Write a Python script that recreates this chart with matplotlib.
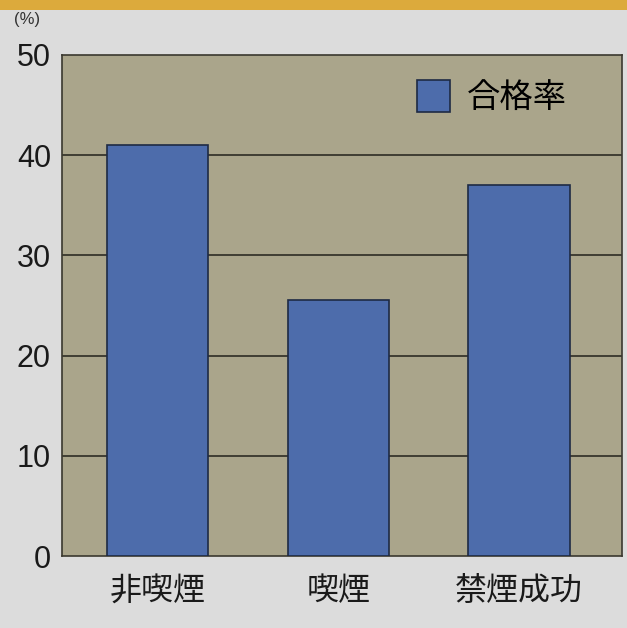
import matplotlib
matplotlib.use("Agg")
import matplotlib.pyplot as plt
from matplotlib.patches import Rectangle

plt.rcParams['font.family'] = ['Liberation Sans', 'Noto Sans CJK JP', 'DejaVu Sans']

# pass rate by smoking status (%)
categories = ['非喫煙', '喫煙', '禁煙成功']
pass_rate = [41, 25.5, 37]
series_name = '合格率'
y_ticks = [0, 10, 20, 30, 40, 50]

W, H = 627, 628
fig = plt.figure(figsize=(W / 100, H / 100), dpi=100)
fig.patch.set_facecolor('#dcdcdc')

# orange strip across the top edge
fig.patches.append(Rectangle((0, 1 - 10 / H), 1, 10 / H, transform=fig.transFigure,
                             facecolor='#dcaa3c', edgecolor='none', zorder=0))

left, right, top, bottom = 62, 622, 55, 556
ax = fig.add_axes([left / W, 1 - bottom / H, (right - left) / W, (bottom - top) / H])
ax.set_facecolor('#aaa58b')

x = range(len(categories))
bars = ax.bar(x, pass_rate, width=0.56, color='#4d6cab', edgecolor='#1e2a44',
              linewidth=1.2, zorder=3, label=series_name)

ax.set_xlim(-0.53, 2.57)
ax.set_ylim(0, 50)
ax.set_yticks(y_ticks)
ax.set_xticks(list(x))
ax.set_xticklabels(categories, fontsize=23, family=['Noto Sans CJK JP'])
ax.tick_params(axis='y', length=0, pad=8, labelsize=22, labelcolor='#1a1a1a')
ax.tick_params(axis='x', length=0, pad=14, labelcolor='#1a1a1a')

for v in y_ticks[1:-1]:
    ax.axhline(v, color='#2e2c24', linewidth=1.2, zorder=1)

for s in ax.spines.values():
    s.set_color('#3a382f')
    s.set_linewidth(1.2)

fig.text(14 / W, 1 - 12 / H, '(%)', fontsize=12, ha='left', va='top', color='#333333')

leg = ax.legend(loc='center left', bbox_to_anchor=(0.58, 0.915), frameon=False,
                handlelength=1.0, handleheight=1.1, handletextpad=0.5,
                prop={'family': 'Noto Sans CJK JP', 'size': 24})

fig.savefig('out.png', dpi=100, facecolor=fig.get_facecolor())
